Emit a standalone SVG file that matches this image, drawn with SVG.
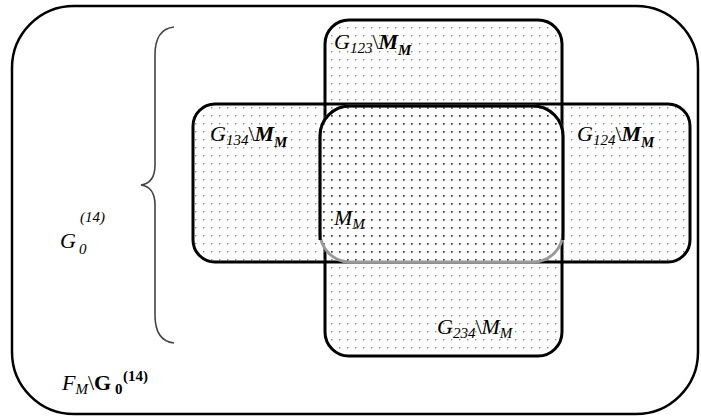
<svg xmlns="http://www.w3.org/2000/svg" width="701" height="419" viewBox="0 0 701 419">
  <defs>
    <pattern id="dotsLight" width="8" height="8" patternUnits="userSpaceOnUse">
      <rect x="3" y="3" width="1.4" height="1.4" fill="#8c8c8c"/>
    </pattern>
    <pattern id="dotsDark" width="8" height="8" patternUnits="userSpaceOnUse">
      <rect x="3" y="3" width="1.7" height="1.7" fill="#3a3a3a"/>
    </pattern>
  </defs>
  <style>
    .frame { fill: none; stroke: #000; stroke-width: 2.5; }
    .set { stroke: #000; stroke-width: 3; }
    .t { font-family: "Liberation Serif", "Times New Roman", serif; font-size: 22px; font-style: italic; fill: #000; }
    .sub { font-size: 15px; }
    .b { font-weight: bold; }
    .up { font-style: normal; }
    .brace { fill: none; stroke: #444; stroke-width: 1.6; }
  </style>

  <!-- universe F_M -->
  <g id="universe">
    <rect class="frame" x="12" y="6" width="686" height="408" rx="62"/>
  </g>

  <!-- G123 / G234 vertical band -->
  <g id="g123">
    <rect class="set" x="325" y="20" width="237" height="336" rx="24" fill="url(#dotsLight)"/>
  </g>

  <!-- G134 / G124 horizontal band -->
  <g id="g134">
    <rect class="set" x="193" y="104" width="497" height="158" rx="22" fill="url(#dotsLight)"/>
  </g>

  <!-- common part M_M -->
  <g id="mm">
    <rect x="320" y="106" width="243" height="156" rx="30" fill="#fff"/>
    <rect x="320" y="106" width="243" height="156" rx="30" fill="url(#dotsDark)" stroke="#999" stroke-width="3"/>
    <path d="M320 240 V136 A30 30 0 0 1 350 106 H533 A30 30 0 0 1 563 136 V240" fill="none" stroke="#000" stroke-width="3"/>
  </g>

  <!-- brace for G0^(14) -->
  <g id="brace">
    <path class="brace" d="M174 27 Q155 29 155 55 V165 Q155 183 141 185 Q155 187 155 205 V315 Q155 341 174 343"/>
  </g>

  <!-- labels -->
  <g id="labels">
    <text class="t" x="334" y="49">G<tspan class="sub" dy="4">123</tspan><tspan class="up" dy="-4">\</tspan><tspan class="b">M</tspan><tspan class="sub b" dy="6">M</tspan></text>
    <text class="t" x="210" y="141">G<tspan class="sub" dy="4">134</tspan><tspan class="up" dy="-4">\</tspan><tspan class="b">M</tspan><tspan class="sub b" dy="6">M</tspan></text>
    <text class="t" x="577" y="141">G<tspan class="sub" dy="4">124</tspan><tspan class="up" dy="-4">\</tspan><tspan class="b">M</tspan><tspan class="sub b" dy="6">M</tspan></text>
    <text class="t" x="334" y="225">M<tspan class="sub" dy="4">M</tspan></text>
    <text class="t" x="437" y="334">G<tspan class="sub" dy="4">234</tspan><tspan class="up" dy="-4">\</tspan>M<tspan class="sub" dy="4">M</tspan></text>
    <text class="t" x="60" y="248">G</text>
    <text class="t sub" x="79" y="254">0</text>
    <text class="t sub" x="80" y="222">(14)</text>
    <text class="t" x="62" y="390">F<tspan class="sub" dy="4">M</tspan><tspan class="up" dy="-4">\</tspan><tspan class="b up">G</tspan></text>
    <text class="t sub b up" x="115" y="394">0</text>
    <text class="t sub b up" x="123" y="381">(14)</text>
  </g>
</svg>
